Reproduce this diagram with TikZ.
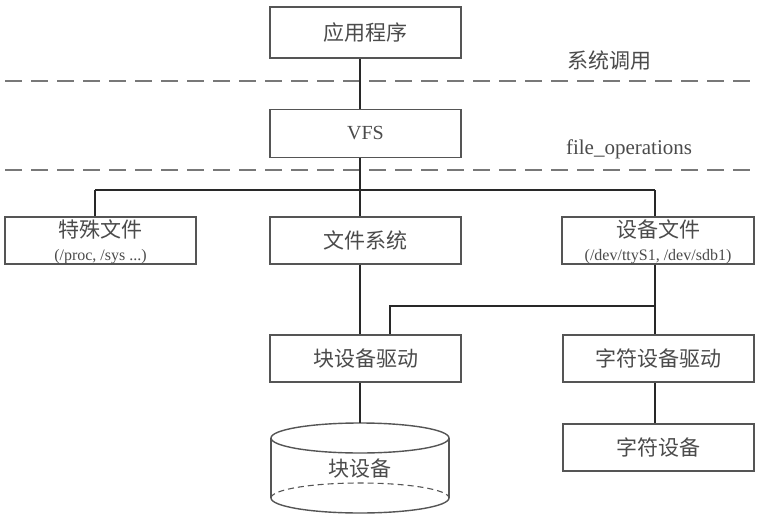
\documentclass[tikz,border=0pt]{standalone}
\usepackage{fontspec}
\setmainfont{Liberation Serif}
\newfontfamily\cjk{Noto Sans CJK SC}
\definecolor{boxc}{RGB}{85,85,85}
\definecolor{linec}{RGB}{40,40,40}
\definecolor{dashc}{RGB}{120,120,120}
\definecolor{txtc}{RGB}{75,75,75}
\begin{document}
\begin{tikzpicture}[x=1pt,y=-1pt,
  box/.style={draw=boxc,line width=1.5pt,minimum width=191pt,minimum height=48pt,inner sep=0pt,
     text=txtc,font=\cjk\fontsize{21}{24}\selectfont,align=center},
  conn/.style={draw=linec,line width=1.6pt},
  sep/.style={draw=dashc,line width=2.2pt,dash pattern=on 17pt off 9pt},
  lbl/.style={text=txtc,inner sep=0pt},
  cjkf/.style={font=\cjk\fontsize{21}{24}\selectfont},
  small/.style={font=\fontsize{16}{18}\selectfont}
]
\useasboundingbox (0,0) rectangle (760,519);
\fill[white] (0,0) rectangle (760,519);

% boxes
\node[box,minimum height=51pt] (app) at (365.5,32.5) {应用程序};
\node[box] (vfs) at (365.5,133.5) {\rmfamily\fontsize{20}{23}\selectfont VFS};
\node[box,minimum height=47pt] (special) at (100.5,240.5) {};
\node[lbl,cjkf] (specialt) at (100.5,229) {特殊文件};
\node[lbl,small] (specials) at (100.5,256.5) {(/proc, /sys ...)};
\node[box,minimum height=47pt] (fs) at (365.5,240.5) {文件系统};
\node[box,minimum height=47pt,minimum width=192pt] (dev) at (658,240.5) {};
\node[lbl,cjkf] (devt) at (658,229) {设备文件};
\node[lbl,small] (devs) at (658,256.5) {(/dev/ttyS1, /dev/sdb1)};
\node[box,minimum height=47pt] (blkdrv) at (365.5,358.5) {块设备驱动};
\node[box,minimum height=47pt] (chrdrv) at (658.5,358.5) {字符设备驱动};
\node[box,minimum height=47pt] (chr) at (658.5,447.5) {字符设备};

% separators and their labels
\coordinate (s1l) at (5,81);
\coordinate (s1r) at (751,81);
\coordinate (s2l) at (5,170);
\coordinate (s2r) at (751,170);
\draw[sep] (s1l) -- (s1r);
\draw[sep] (s2l) -- (s2r);
\node[lbl,cjkf] (syscall) at (609,61) {系统调用};
\node[lbl,font=\fontsize{21}{24}\selectfont] (fops) at (629,149) {file\_operations};

% block device (cylinder)
\coordinate (disktop) at (360,423);
\draw[draw=boxc,line width=1.4pt] (360,438) ellipse [x radius=89, y radius=15];
\draw[draw=boxc,line width=1.4pt] (271,438) -- (271,498);
\draw[draw=boxc,line width=1.4pt] (449,438) -- (449,498);
\draw[draw=boxc,line width=1.4pt] (449,498) arc [start angle=0, end angle=180, x radius=89, y radius=15];
\draw[draw=boxc,line width=1.1pt,dash pattern=on 6pt off 4pt] (271,498) arc [start angle=180, end angle=360, x radius=89, y radius=15];
\node[lbl,cjkf] (disk) at (360,469) {块设备};

% connectors
\draw[conn] ([xshift=-5.5pt]app.south) -- ([xshift=-5.5pt]vfs.north);
\draw[conn] ([xshift=-5.5pt]vfs.south) -- ([xshift=-5.5pt]fs.north);
\coordinate (busl) at (95,190);
\coordinate (busr) at (655,190);
\draw[conn] (busl) -- (busr);
\draw[conn] (busl) -- (busl |- special.north);
\draw[conn] (busr) -- (busr |- dev.north);
\draw[conn] ([xshift=-5.5pt]fs.south) -- ([xshift=-5.5pt]blkdrv.north);
\draw[conn] ([xshift=-3pt]dev.south) -- ([xshift=-3.5pt]chrdrv.north);
\coordinate (br) at (655,306);
\coordinate (bl) at (390,306);
\draw[conn] (br) -- (bl) -- (bl |- blkdrv.north);
\draw[conn] ([xshift=-5.5pt]blkdrv.south) -- (disktop);
\draw[conn] ([xshift=-3.5pt]chrdrv.south) -- ([xshift=-3.5pt]chr.north);
\end{tikzpicture}
\end{document}
